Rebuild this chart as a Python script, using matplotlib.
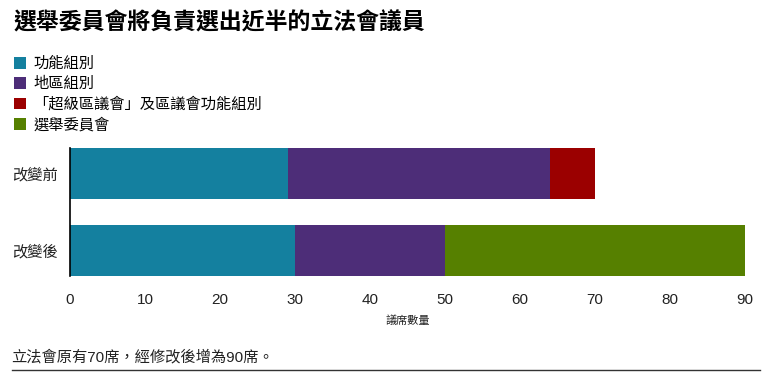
import matplotlib
matplotlib.use("Agg")
import matplotlib.pyplot as plt
from matplotlib.lines import Line2D

plt.rcParams['font.family'] = ['Liberation Sans', 'Noto Sans CJK TC', 'DejaVu Sans']

# data
stages = ['改變前', '改變後']
series = ['功能組別', '地區組別', '「超級區議會」及區議會功能組別', '選舉委員會']
functional = [29, 30]
geographic = [35, 20]
district = [6, 0]
election = [0, 40]
colors = ['#14809f', '#4d2d78', '#9b0000', '#568000']

fig = plt.figure(figsize=(7.68, 3.78), dpi=100)
ax = fig.add_axes([70 / 768, 1 - 276 / 378, 675 / 768, 128 / 378])

left = [0, 0]
handles = []
for vals, name, c in zip([functional, geographic, district, election], series, colors):
    b = ax.barh(stages, vals, left=left, height=0.66, color=c, label=name,
                edgecolor='none')
    handles.append(b)
    left = [l + v for l, v in zip(left, vals)]

ax.set_xlim(0, 90)
ax.set_ylim(1.33, -0.33)
ax.set_xticks(range(0, 91, 10))
for s in ['top', 'right', 'bottom']:
    ax.spines[s].set_visible(False)
ax.spines['left'].set_color('black')
ax.spines['left'].set_linewidth(1.2)
ax.tick_params(axis='both', length=0, labelsize=11, colors='#222222')
ax.tick_params(axis='x', pad=12)
ax.tick_params(axis='y', pad=9)
ax.set_xlabel('議席數量', fontsize=8, color='#222222', labelpad=6)

fig.text(14 / 768, 1 - 23 / 378, '選舉委員會將負責選出近半的立法會議員',
         fontsize=16.5, fontweight='bold', va='center', ha='left')

fig.legend(handles=handles, labels=series, loc='upper left',
           bbox_to_anchor=(8 / 768, 1 - 51 / 378), frameon=False,
           fontsize=11, handlelength=0.8, handleheight=0.8,
           handletextpad=0.45, labelspacing=0.38, borderaxespad=0)

fig.text(11 / 768, 1 - 357 / 378, '立法會原有70席，經修改後增為90席。',
         fontsize=11, va='center', ha='left', color='#222222')
fig.add_artist(Line2D([12 / 768, 760 / 768], [1 - 370 / 378, 1 - 370 / 378],
                      color='#333333', linewidth=1))

fig.savefig('out.png', dpi=100)
